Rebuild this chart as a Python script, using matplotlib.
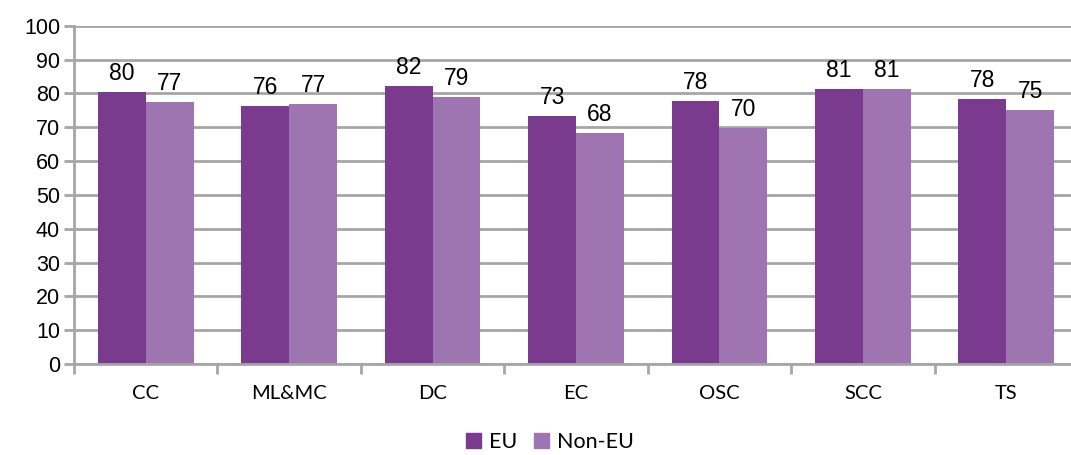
import matplotlib
matplotlib.use("Agg")
import matplotlib.pyplot as plt
import numpy as np
from matplotlib.patches import Patch

categories = ["CC", "ML&MC", "DC", "EC", "OSC", "SCC", "TS"]
eu = [80.4, 76.2, 82.2, 73.3, 77.7, 81.2, 78.3]
non_eu = [77.4, 76.8, 78.9, 68.2, 69.7, 81.2, 75.0]
series_names = ["EU", "Non-EU"]
colors = ["#7A3A8E", "#9E75B0"]
yticks = [0, 10, 20, 30, 40, 50, 60, 70, 80, 90, 100]

fig = plt.figure(figsize=(10.71, 4.55), dpi=100)
ax = fig.add_axes([74/1071, 1-364/455, (1078-74)/1071, (364-25.7)/455])

x = np.arange(len(categories))
w = 1/3
b1 = ax.bar(x - w/2, eu, width=w, color=colors[0], zorder=3)
b2 = ax.bar(x + w/2, non_eu, width=w, color=colors[1], zorder=3)

for bars, vals in ((b1, eu), (b2, non_eu)):
    for r, v in zip(bars, vals):
        ax.annotate(f"{round(v):d}", (r.get_x() + r.get_width()/2, v),
                    xytext=(0, 8.5), textcoords="offset points",
                    ha="center", va="baseline", fontsize=16.5,
                    family="Liberation Sans", color="#000000")

ax.set_xlim(-0.5, len(categories) - 0.5)
ax.set_ylim(0, 100)
ax.set_yticks(yticks)
ax.set_yticklabels([str(t) for t in yticks], family="Liberation Sans", fontsize=15.5)
ax.set_xticks(x)
ax.set_xticklabels(categories, family="Lato", fontsize=14.5)
ax.set_xticks(np.arange(-0.5, len(categories)), minor=True)
ax.tick_params(axis="x", which="major", length=0, pad=15)
ax.tick_params(axis="x", which="minor", length=7, width=2, color="#A6A6A6")
ax.tick_params(axis="y", length=7, width=2, color="#A6A6A6", pad=3)

ax.grid(axis="y", color="#A6A6A6", linewidth=2, zorder=0)
ax.set_axisbelow(True)
for s in ["top", "right"]:
    ax.spines[s].set_visible(False)
for s in ["left", "bottom"]:
    ax.spines[s].set_color("#A6A6A6")
    ax.spines[s].set_linewidth(2)
ax.spines["bottom"].set_zorder(4)

handles = [Patch(color=c, label=n) for c, n in zip(colors, series_names)]
fig.legend(handles=handles, loc="center", bbox_to_anchor=(550/1071, 1-442/455),
           ncol=2, frameon=False, prop={"family": "Lato", "size": 15.5},
           handlelength=0.7, handleheight=0.7, handletextpad=0.35, columnspacing=0.8,
           borderpad=0)

fig.savefig("out.png", dpi=100)
